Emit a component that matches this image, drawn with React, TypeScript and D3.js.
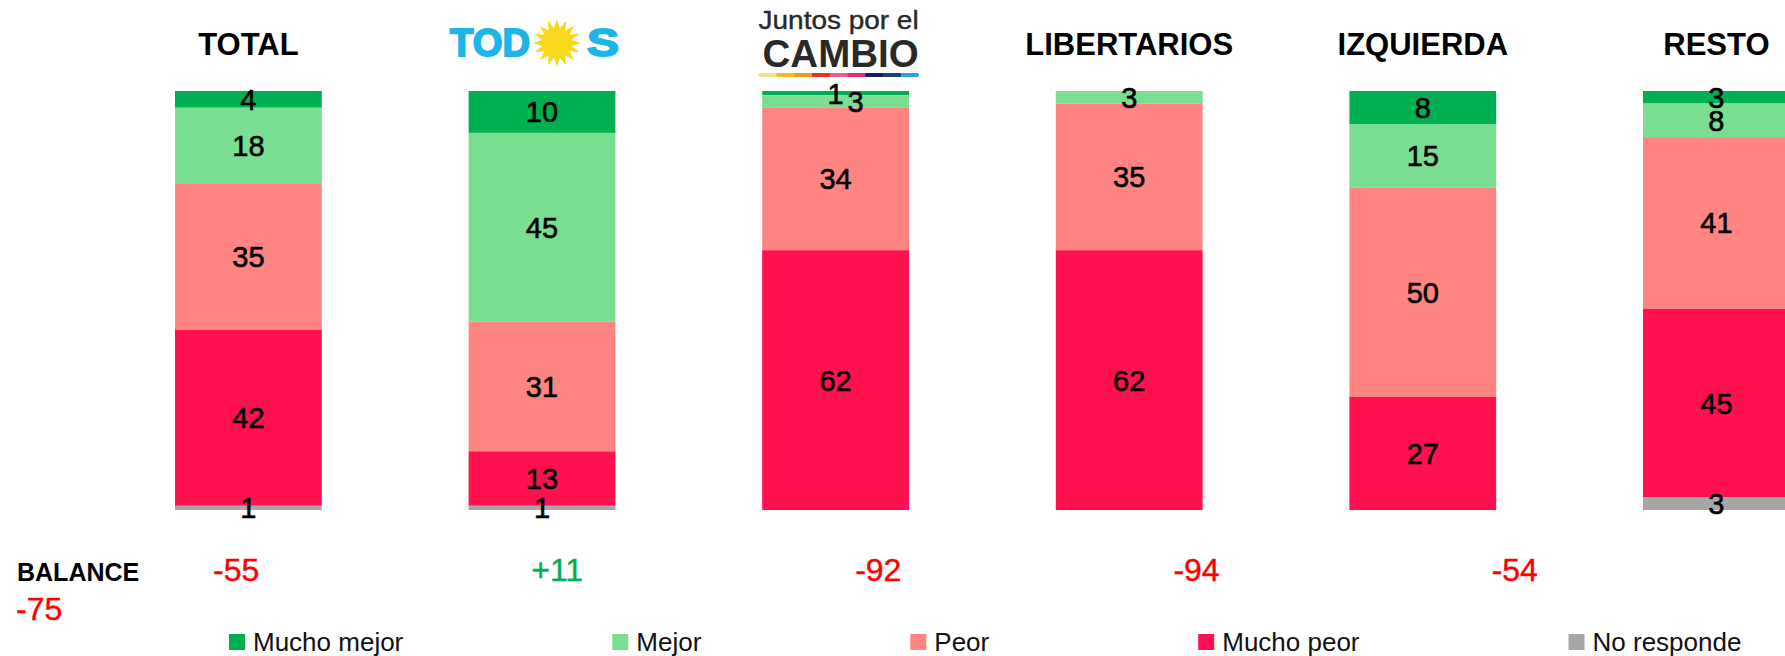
import React, { useRef, useEffect } from "react";
import * as d3 from "d3";

// chart data
const categories = ["TOTAL", "TODOS", "JXC", "LIBERTARIOS", "IZQUIERDA", "RESTO"];
const seriesNames = ["Mucho mejor", "Mejor", "Peor", "Mucho peor", "No responde"];
const muchoMejor = [4, 10, 1, 0, 8, 3];
const mejor = [18, 45, 3, 3, 15, 8];
const peor = [35, 31, 34, 35, 50, 41];
const muchoPeor = [42, 13, 62, 62, 27, 45];
const noResponde = [1, 1, 0, 0, 0, 3];
const balanceLabels = ["-55", "+11", "-92", "-94", "-54", "-75"];

const seriesColors = ["#00B050", "#7ADE90", "#FF8582", "#FF1150", "#A6A6A6"];
const stripeColors = ["#EDE58C", "#F6BB1E", "#F29A1F", "#DF3328", "#E2629F", "#D8327F", "#1C1A5C", "#1F3F7D", "#2CA2DC"];

const FONT = "'Liberation Sans', Arial, sans-serif";

export default function App() {
  const ref = useRef<SVGSVGElement>(null);

  useEffect(() => {
    const svg = d3.select(ref.current);
    svg.selectAll("*").remove();
    svg.style("font-family", FONT);

    const values = [muchoMejor, mejor, peor, muchoPeor, noResponde];
    const rows = categories.map((cat, i) => {
      const r: any = { cat };
      seriesNames.forEach((s, k) => (r[s] = values[k][i]));
      return r;
    });
    const series = d3.stack<any>().keys(seriesNames)(rows);

    const x = d3
      .scaleBand()
      .domain(categories)
      .range([101.6, 1863.2])
      .paddingInner(0.5)
      .paddingOuter(0.25);
    const y = d3.scaleLinear().domain([0, 100]).range([91, 510]);
    const color = d3.scaleOrdinal<string>().domain(seriesNames).range(seriesColors);

    // bars
    const g = svg.append("g");
    series.forEach((s) => {
      g.selectAll(null)
        .data(s.filter((d) => d[1] > d[0]))
        .enter()
        .append("rect")
        .attr("x", (d) => x(d.data.cat)!)
        .attr("width", x.bandwidth())
        .attr("y", (d) => y(d[0]))
        .attr("height", (d) => y(d[1]) - y(d[0]))
        .attr("fill", color(s.key));
    });

    // segment labels, nudged right when they collide with the one above
    categories.forEach((cat, i) => {
      let prevY = -100;
      series.forEach((s) => {
        const d = s[i];
        const v = d[1] - d[0];
        if (v <= 0) return;
        const cy = (y(d[0]) + y(d[1])) / 2;
        const dx = cy - prevY < 14 ? 20 : 0;
        prevY = cy;
        g.append("text")
          .attr("x", x(cat)! + x.bandwidth() / 2 + dx)
          .attr("y", cy)
          .attr("dy", "0.36em")
          .attr("text-anchor", "middle")
          .attr("font-size", 29)
          .attr("fill", "#000")
          .attr("stroke", "#000")
          .attr("stroke-width", 0.6)
          .text(v);
      });
    });

    // headers
    const cx = (c: string) => x(c)! + x.bandwidth() / 2;
    ["TOTAL", "LIBERTARIOS", "IZQUIERDA", "RESTO"].forEach((c) => {
      svg.append("text")
        .attr("x", cx(c))
        .attr("y", 55)
        .attr("text-anchor", "middle")
        .attr("font-size", 31)
        .attr("font-weight", "bold")
        .text(c);
    });

    // TODOS logo
    const tx = cx("TODOS");
    const todos = svg.append("g").attr("fill", "#1DB4E9").attr("stroke", "#1DB4E9").attr("stroke-width", 1.8);
    todos.append("text")
      .attr("x", tx - 12)
      .attr("y", 56)
      .attr("text-anchor", "end")
      .attr("font-size", 39)
      .attr("font-weight", "bold")
      .attr("textLength", 80)
      .attr("lengthAdjust", "spacingAndGlyphs")
      .text("TOD");
    todos.append("text")
      .attr("x", tx + 45)
      .attr("y", 56)
      .attr("font-size", 39)
      .attr("font-weight", "bold")
      .attr("textLength", 32)
      .attr("lengthAdjust", "spacingAndGlyphs")
      .text("S");
    const rays = d3.range(32);
    const sun = d3
      .lineRadial<number>()
      .angle((i) => (i * Math.PI) / 16)
      .radius((i) => (i % 2 === 0 ? 24 : 15))
      .curve(d3.curveLinearClosed);
    const sg = svg.append("g").attr("transform", `translate(${tx + 15},43)`);
    sg.append("path").attr("d", sun(rays)).attr("fill", "#F8D81A");
    sg.append("circle").attr("r", 13).attr("fill", "#F8D81A");

    // Juntos por el Cambio logo
    const jx = cx("JXC");
    svg.append("text")
      .attr("x", jx - 77)
      .attr("y", 29)
      .attr("font-size", 25)
      .attr("fill", "#2A2928")
      .attr("stroke", "#2A2928")
      .attr("stroke-width", 0.4)
      .attr("textLength", 160)
      .attr("lengthAdjust", "spacingAndGlyphs")
      .text("Juntos por el");
    svg.append("text")
      .attr("x", jx - 73)
      .attr("y", 67)
      .attr("font-size", 38)
      .attr("font-weight", "bold")
      .attr("fill", "#2A2928")
      .attr("textLength", 156)
      .attr("lengthAdjust", "spacingAndGlyphs")
      .text("CAMBIO");
    const stripe = d3.scaleBand().domain(d3.range(stripeColors.length).map(String)).range([jx - 77, jx + 83]);
    svg.append("g")
      .selectAll("rect")
      .data(stripeColors)
      .enter()
      .append("rect")
      .attr("x", (d, i) => stripe(String(i))!)
      .attr("width", stripe.bandwidth() + 0.5)
      .attr("y", 73)
      .attr("height", 4)
      .attr("rx", (d, i) => (i === 0 || i === stripeColors.length - 1 ? 2 : 0))
      .attr("fill", (d) => d);

    // balance row
    svg.append("text")
      .attr("x", 17)
      .attr("y", 581)
      .attr("font-size", 25)
      .attr("font-weight", "bold")
      .text("BALANCE");
    const bal = svg.append("text")
      .attr("x", 213)
      .attr("y", 581)
      .attr("font-size", 32)
      .attr("stroke-width", 0.4);
    balanceLabels.slice(0, 5).forEach((b, i) => {
      const c = b.startsWith("+") ? "#00B050" : "#FF0000";
      bal.append("tspan")
        .attr("dx", i === 0 ? 0 : 272)
        .attr("fill", c)
        .attr("stroke", c)
        .text(b);
    });
    svg.append("text")
      .attr("x", 16)
      .attr("y", 620)
      .attr("font-size", 32)
      .attr("fill", "#FF0000")
      .attr("stroke", "#FF0000")
      .attr("stroke-width", 0.4)
      .text(balanceLabels[5]);

    // legend
    let lx = 229;
    seriesNames.forEach((s, i) => {
      svg.append("rect").attr("x", lx).attr("y", 634).attr("width", 16).attr("height", 16).attr("fill", seriesColors[i]);
      const t = svg.append("text")
        .attr("x", lx + 24)
        .attr("y", 651)
        .attr("font-size", 26)
        .attr("fill", "#111")
        .text(s);
      lx += 24 + (t.node() as SVGTextElement).getComputedTextLength() + 209;
    });
  }, []);

  return (
    <svg
      ref={ref}
      width={1785}
      height={656}
      style={{ position: "absolute", left: 0, top: 0, background: "#fff" }}
    />
  );
}
